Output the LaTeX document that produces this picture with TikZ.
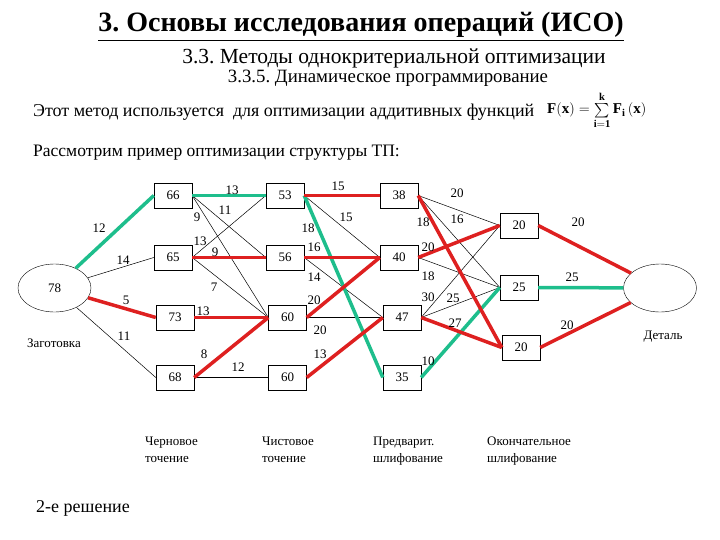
\documentclass[tikz,border=0pt]{standalone}
\usepackage{fontspec}
\setmainfont{Liberation Serif}
\usepackage{amsmath}
\usetikzlibrary{calc}
\usetikzlibrary{shapes.geometric}
\frenchspacing

\definecolor{optgreen}{RGB}{30,190,140}
\definecolor{optred}{RGB}{222,32,32}

\tikzset{
    opbox/.style={draw, thin, fill=white, minimum width=38pt, minimum height=25pt, inner sep=0pt, font=\fontsize{13}{13}\selectfont},
    part/.style={draw, thin, ellipse, minimum width=73pt, minimum height=48pt, inner sep=0pt, font=\fontsize{13}{13}\selectfont},
    thinedge/.style={line width=0.5pt},
    rededge/.style={line width=3.5pt, optred},
    greenedge/.style={line width=3.5pt, optgreen},
    cost/.style={font=\fontsize{13}{13}\selectfont, inner sep=0pt},
    caption/.style={font=\fontsize{13}{17}\selectfont, align=left, anchor=north west, inner sep=0pt}
}

\begin{document}
\begin{tikzpicture}[x=1pt, y=-1pt]
    \useasboundingbox (0, 0) rectangle (720, 540);

    \node (title) at (361, 27) {\fontsize{28}{28}\selectfont\bfseries\underline{3. Основы исследования операций (ИСО)}};
    \node (sub1) at (394, 58) {\fontsize{21.5}{21.5}\selectfont 3.3. Методы однокритериальной оптимизации};
    \node (sub2) at (388, 78) {\fontsize{18.8}{18.8}\selectfont 3.3.5. Динамическое программирование};
    \node[anchor=west, inner sep=0pt] (intro) at (33, 112) {\fontsize{18}{18}\selectfont Этот метод используется\ \ для оптимизации аддитивных функций};
    \node[anchor=west, inner sep=0pt] (formula) at (547, 110) {\fontsize{15}{15}\selectfont $\mathbf{F(x)} = \sum\limits_{\mathbf{i=1}}^{\mathbf{k}} \mathbf{F_i\,(x)}$};
    \node[anchor=west, inner sep=0pt] (task) at (33, 153) {\fontsize{17.5}{17.5}\selectfont Рассмотрим пример оптимизации структуры ТП:};

    \def\ca{173}
    \def\cb{286}
    \def\cc{400}
    \def\cd{520}
    \node[part] (start) at (54.5, 288) {78};
    \node[part] (finish) at (660, 288) {};
    \node[cost] (startname) at (54, 343) {Заготовка};
    \node[cost] (finishname) at (663, 337) {Деталь};

    \node[opbox] (a66) at (\ca, 195.5) {66};
    \node[opbox] (a65) at (\ca, 257.5) {65};
    \node[opbox] (a73) at (\ca+2, 317.5) {73};
    \node[opbox] (a68) at (\ca+2, 377.5) {68};
    \node[opbox] (b53) at (\cb-1, 195.5) {53};
    \node[opbox] (b56) at (\cb-1, 257.5) {56};
    \node[opbox] (b60) at (\cb+1.5, 317.5) {60};
    \node[opbox] (b60d) at (\cb+1.5, 377.5) {60};
    \node[opbox] (c38) at (\cc-1, 195.5) {38};
    \node[opbox] (c40) at (\cc-1, 257.5) {40};
    \node[opbox] (c47) at (\cc+2, 317.5) {47};
    \node[opbox] (c35) at (\cc+2, 377.5) {35};
    \node[opbox] (d20) at (\cd-1, 225.5) {20};
    \node[opbox] (d25) at (\cd-1, 287.5) {25};
    \node[opbox] (d20d) at (\cd+1, 347.5) {20};

    \draw[thinedge] (start) -- (a65.west) node[cost] (k1) at (123, 260) {14};
    \draw[thinedge] (start) -- (a68.west) node[cost] (k2) at (124, 336) {11};
    \draw[thinedge] (a66.east) -- (b56.west) node[cost] (k3) at (225, 210) {11};
    \draw[thinedge] (a66.east) -- (b60.west) node[cost] (k4) at (197, 217) {9};
    \draw[thinedge] (a65.east) -- (b53.west) node[cost] (k5) at (200, 241) {13};
    \draw[thinedge] (a65.east) -- (b60.west) node[cost] (k6) at (214, 287) {7};
    \draw[thinedge] (a68.east) -- (b60d.west) node[cost] (k7) at (238, 367) {12};
    \draw[thinedge] (b53.east) -- (c40.west) node[cost] (k8) at (346, 217) {15};
    \draw[thinedge] (b56.east) -- (c47.west) node[cost] (k9) at (314, 277) {14};
    \draw[thinedge] (b60.east) -- (c47.west) node[cost] (k10) at (320, 330) {20};
    \draw[thinedge] (c38.east) -- (d20.west) node[cost] (k11) at (457, 193) {20};
    \draw[thinedge] (c38.east) -- (d25.west) node[cost] (k12) at (457, 219) {16};
    \draw[thinedge] (c40.east) -- (d25.west) node[cost] (k13) at (428, 276) {18};
    \draw[thinedge] (c47.east) -- (d20.west) node[cost] (k14) at (428, 297) {30};
    \draw[thinedge] (c47.east) -- (d25.west) node[cost] (k15) at (453, 298) {25};

    \draw[greenedge] (start) -- (a66.west) node[cost, black] (k16) at (99, 228) {12};
    \draw[greenedge] (a66.east) -- (b53.west) node[cost, black] (k17) at (232, 190) {13};
    \draw[greenedge] (b53.east) -- (c35.west) node[cost, black] (k18) at (308, 228) {18};
    \draw[greenedge] (c35.east) -- (d25.west) node[cost, black] (k19) at (428, 361) {10};
    \draw[greenedge] (d25.east) -- (finish) node[cost, black] (k20) at (572, 277) {25};

    \draw[rededge] (start) -- (a73.west) node[cost, black] (k21) at (126, 300) {5};
    \draw[rededge] (a65.east) -- (b56.west) node[cost, black] (k22) at (215, 252) {9};
    \draw[rededge] (a73.east) -- (b60.west) node[cost, black] (k23) at (203, 311) {13};
    \draw[rededge] (a68.east) -- (b60.west) node[cost, black] (k24) at (204, 354) {8};
    \draw[rededge] (b53.east) -- (c38.west) node[cost, black] (k25) at (338, 186) {15};
    \draw[rededge] (b56.east) -- (c40.west) node[cost, black] (k26) at (314, 247) {16};
    \draw[rededge] (b60.east) -- (c40.west) node[cost, black] (k27) at (314, 300) {20};
    \draw[rededge] (b60d.east) -- (c47.west) node[cost, black] (k28) at (320, 354) {13};
    \draw[rededge] (c38.east) -- (d20d.west) node[cost, black] (k29) at (423, 222) {18};
    \draw[rededge] (c40.east) -- (d20.west) node[cost, black] (k30) at (428, 247) {20};
    \draw[rededge] (c47.east) -- (d20d.west) node[cost, black] (k31) at (455, 323) {27};
    \draw[rededge] (d20.east) -- (finish) node[cost, black] (k32) at (578, 222) {20};
    \draw[rededge] (d20d.east) -- (finish) node[cost, black] (k33) at (567, 325) {20};

    \node[caption] (stage1) at (145, 437) {Черновое\\точение};
    \node[caption] (stage2) at (262, 437) {Чистовое\\точение};
    \node[caption] (stage3) at (373, 437) {Предварит.\\шлифование};
    \node[caption] (stage4) at (487, 437) {Окончательное\\шлифование};
    \node[anchor=west, inner sep=0pt] (variant) at (36, 508) {\fontsize{18}{18}\selectfont 2-е решение};
\end{tikzpicture}
\end{document}
